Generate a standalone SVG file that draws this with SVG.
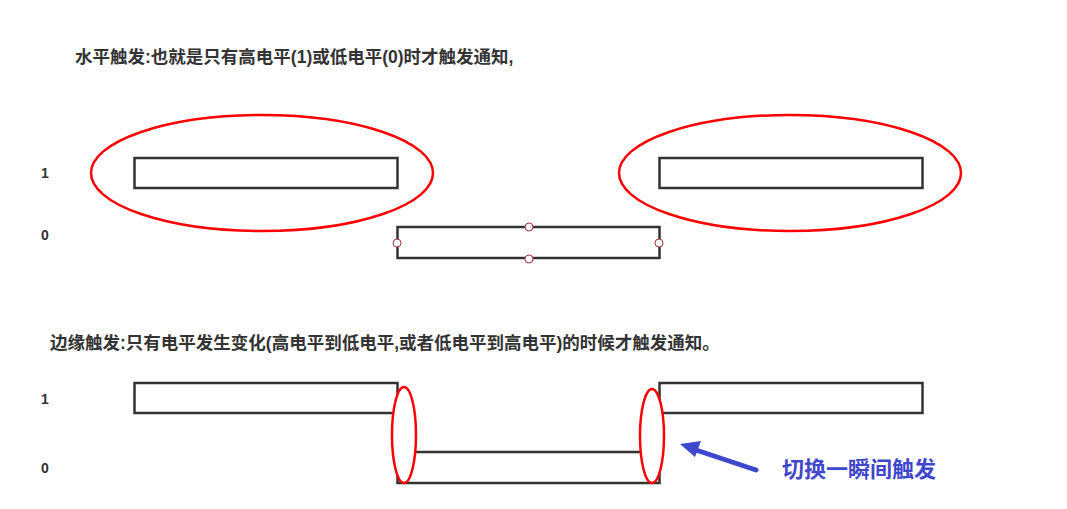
<svg xmlns="http://www.w3.org/2000/svg" width="1067" height="509" viewBox="0 0 1067 509">
<style>
.t{font-family:"Liberation Sans","Noto Sans CJK SC",sans-serif;font-weight:bold;fill:#333;font-size:17.5px}
.lv{font-family:"Liberation Sans","Noto Sans CJK SC",sans-serif;font-weight:bold;fill:#333;font-size:14px}
.box{fill:none;stroke:#333;stroke-width:2.5}
.ring{fill:none;stroke:#f00;stroke-width:2.5}
.ringw{fill:#fff;stroke:#f00;stroke-width:2.5}
.h{fill:#fff;stroke:#a33;stroke-width:1}
</style>
<rect width="1067" height="509" fill="#fff"/>
<g id="title1"><text class="t" x="75" y="63">水平触发:也就是只有高电平(1)或低电平(0)时才触发通知,</text></g>
<g id="title2"><text class="t" x="50" y="349">边缘触发:只有电平发生变化(高电平到低电平,或者低电平到高电平)的时候才触发通知。</text></g>
<g id="labels">
<text class="lv" x="41" y="178">1</text>
<text class="lv" x="41" y="240">0</text>
<text class="lv" x="41" y="404">1</text>
<text class="lv" x="41" y="473">0</text>
</g>
<g id="level-high-1"><rect class="box" x="134.5" y="158" width="263" height="30"/></g>
<g id="level-high-2"><rect class="box" x="659.5" y="158" width="263" height="30"/></g>
<g id="level-low"><rect class="box" x="397.5" y="227" width="262" height="31"/>
<circle class="h" cx="529" cy="227" r="4"/><circle class="h" cx="529" cy="259" r="4"/>
<circle class="h" cx="397" cy="243" r="4"/><circle class="h" cx="659" cy="243" r="4"/></g>
<g id="ring-1"><ellipse class="ring" cx="262" cy="173" rx="171" ry="58"/></g>
<g id="ring-2"><ellipse class="ring" cx="790" cy="173" rx="171" ry="58"/></g>
<g id="edge-high-1"><rect class="box" x="134.5" y="383" width="263" height="30"/></g>
<g id="edge-high-2"><rect class="box" x="659.5" y="383" width="263" height="30"/></g>
<g id="edge-low"><rect class="box" x="397.5" y="452" width="262" height="31"/></g>
<g id="edge-ring-1"><ellipse class="ringw" cx="404" cy="435" rx="12" ry="48"/></g>
<g id="edge-ring-2"><ellipse class="ringw" cx="652" cy="436" rx="12" ry="47" stroke="#f33"/></g>
<g id="connectors">
<line x1="756" y1="470" x2="696" y2="450" stroke="#3f48cc" stroke-width="5" stroke-linecap="round"/>
<polygon points="680,444 701,441 695,457" fill="#3f48cc"/>
</g>
<g id="note"><text x="782" y="477" font-family="'Liberation Sans','Noto Sans CJK SC',sans-serif" font-weight="bold" font-size="22" fill="#3f48cc">切换一瞬间触发</text></g>
</svg>
